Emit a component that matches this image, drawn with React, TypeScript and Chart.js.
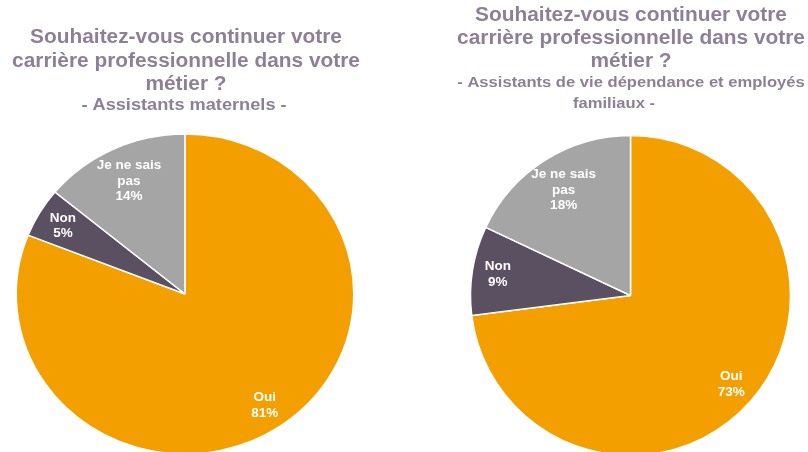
import React, { useEffect, useRef } from "react";
import { Chart, registerables } from "chart.js";

Chart.register(...registerables);

// ---- Data ----
const categories = ["Oui", "Non", "Je ne sais pas"];
const valuesMaternels = [81, 5, 14];
const valuesAvdEf = [73, 9, 18];
const sliceColors = ["#F39F00", "#5B4F62", "#A5A5A5"];
const titleLines = [
  "Souhaitez-vous continuer votre",
  "carrière professionnelle dans votre",
  "métier ?",
];
const subtitleMaternels = ["- Assistants maternels -"];
const subtitleAvdEf = ["- Assistants de vie dépendance et employés", "familiaux -"];

const FONT_FAMILY = "'Liberation Sans', Arial, sans-serif";
const TITLE_COLOR = "#8E7F97";

type Cfg = {
  values: number[];
  subtitle: string[];
  left: number;
  padding: { left: number; right: number; top: number; bottom: number };
  stretchX: number;
  titleCx: number;
  titleYs: number[];
  subCxs: number[];
  subYs: number[];
  subFontSize: number;
};

function wrapText(ctx: CanvasRenderingContext2D, text: string, maxW: number): string[] {
  const words = text.split(" ");
  const out: string[] = [];
  let cur = "";
  for (const w of words) {
    const test = cur ? cur + " " + w : w;
    if (cur && ctx.measureText(test).width > maxW) {
      out.push(cur);
      cur = w;
    } else cur = test;
  }
  if (cur) out.push(cur);
  return out;
}

const stretchPlugin = {
  id: "stretchX",
  beforeDatasetsDraw(chart: any, _args: any, opts: any) {
    const ctx = chart.ctx;
    ctx.save();
    const sx = opts?.sx ?? 1;
    const arc = chart.getDatasetMeta(0).data[0];
    if (arc && sx !== 1) {
      ctx.translate(arc.x, arc.y);
      ctx.scale(sx, 1);
      ctx.translate(-arc.x, -arc.y);
    }
  },
  afterDatasetsDraw(chart: any) {
    chart.ctx.restore();
  },
};

const sliceLabelPlugin = {
  id: "sliceLabels",
  afterDraw(chart: any, _args: any, opts: any) {
    const ctx: CanvasRenderingContext2D = chart.ctx;
    const sx = opts?.sx ?? 1;
    const meta = chart.getDatasetMeta(0);
    const data = chart.data.datasets[0].data as number[];
    const total = data.reduce((a, b) => a + b, 0);
    ctx.save();
    ctx.font = `bold 13.5px ${FONT_FAMILY}`;
    ctx.fillStyle = "#FFFFFF";
    ctx.textAlign = "center";
    ctx.textBaseline = "middle";
    meta.data.forEach((el: any, i: number) => {
      const { x, y, startAngle, endAngle, outerRadius } = el.getProps(
        ["x", "y", "startAngle", "endAngle", "outerRadius"],
        true
      );
      const lines = wrapText(ctx, String(chart.data.labels[i]), 78);
      lines.push(Math.round((data[i] / total) * 100) + "%");
      const frac = lines.length > 2 ? 0.78 : 0.84;
      const mid = (startAngle + endAngle) / 2;
      const r = outerRadius * frac;
      const lx = x + Math.cos(mid) * r * sx;
      const ly = y + Math.sin(mid) * r;
      const lh = 15.5;
      lines.forEach((ln, k) => {
        ctx.fillText(ln, lx, ly + (k - (lines.length - 1) / 2) * lh);
      });
    });
    ctx.restore();
  },
};

const titlePlugin = {
  id: "fixedTitle",
  afterDraw(chart: any, _args: any, opts: any) {
    const ctx: CanvasRenderingContext2D = chart.ctx;
    const c: Cfg = opts.cfg;
    const drawLine = (text: string, cx: number, cy: number, size: number) => {
      ctx.save();
      ctx.translate(cx, cy);
      ctx.scale(1.07, 1);
      ctx.font = `bold ${size}px ${FONT_FAMILY}`;
      ctx.fillStyle = TITLE_COLOR;
      ctx.textAlign = "center";
      ctx.textBaseline = "middle";
      ctx.fillText(text, 0, 0);
      ctx.restore();
    };
    titleLines.forEach((t, i) => drawLine(t, c.titleCx, c.titleYs[i], 19.5));
    c.subtitle.forEach((t, i) => drawLine(t, c.subCxs[i], c.subYs[i], c.subFontSize));
  },
};

function PieChart({ cfg }: { cfg: Cfg }) {
  const ref = useRef<HTMLCanvasElement | null>(null);
  useEffect(() => {
    if (!ref.current) return;
    const chart = new Chart(ref.current, {
      type: "pie",
      data: {
        labels: categories,
        datasets: [
          {
            data: cfg.values,
            backgroundColor: sliceColors,
            borderColor: "#FFFFFF",
            borderWidth: 1.5,
            radius: 160,
          } as any,
        ],
      },
      options: {
        responsive: false,
        animation: false,
        events: [],
        layout: { padding: cfg.padding },
        plugins: {
          legend: { display: false },
          tooltip: { enabled: false },
          title: { display: false },
          stretchX: { sx: cfg.stretchX },
          sliceLabels: { sx: cfg.stretchX },
          fixedTitle: { cfg },
        } as any,
      },
      plugins: [stretchPlugin, sliceLabelPlugin, titlePlugin],
    });
    return () => chart.destroy();
  }, [cfg]);
  return (
    <canvas
      ref={ref}
      width={404}
      height={470}
      style={{ position: "absolute", left: cfg.left, top: 0, width: 404, height: 470 }}
    />
  );
}

const leftCfg: Cfg = {
  values: valuesMaternels,
  subtitle: subtitleMaternels,
  left: 0,
  padding: { left: 0, right: 34, top: 118, bottom: 0 },
  stretchX: 1.055,
  titleCx: 186,
  titleYs: [38, 61.5, 85],
  subCxs: [184],
  subYs: [105.5],
  subFontSize: 17,
};

const rightCfg: Cfg = {
  values: valuesAvdEf,
  subtitle: subtitleAvdEf,
  left: 404,
  padding: { left: 49, right: 0, top: 121, bottom: 0 },
  stretchX: 1,
  titleCx: 227,
  titleYs: [15.5, 38.5, 61.5],
  subCxs: [227, 210],
  subYs: [83, 104],
  subFontSize: 15.5,
};

export default function App() {
  return (
    <div
      style={{
        position: "fixed",
        left: 0,
        top: 0,
        width: 808,
        height: 452,
        overflow: "hidden",
        background: "#FFFFFF",
      }}
    >
      <PieChart cfg={leftCfg} />
      <PieChart cfg={rightCfg} />
    </div>
  );
}
